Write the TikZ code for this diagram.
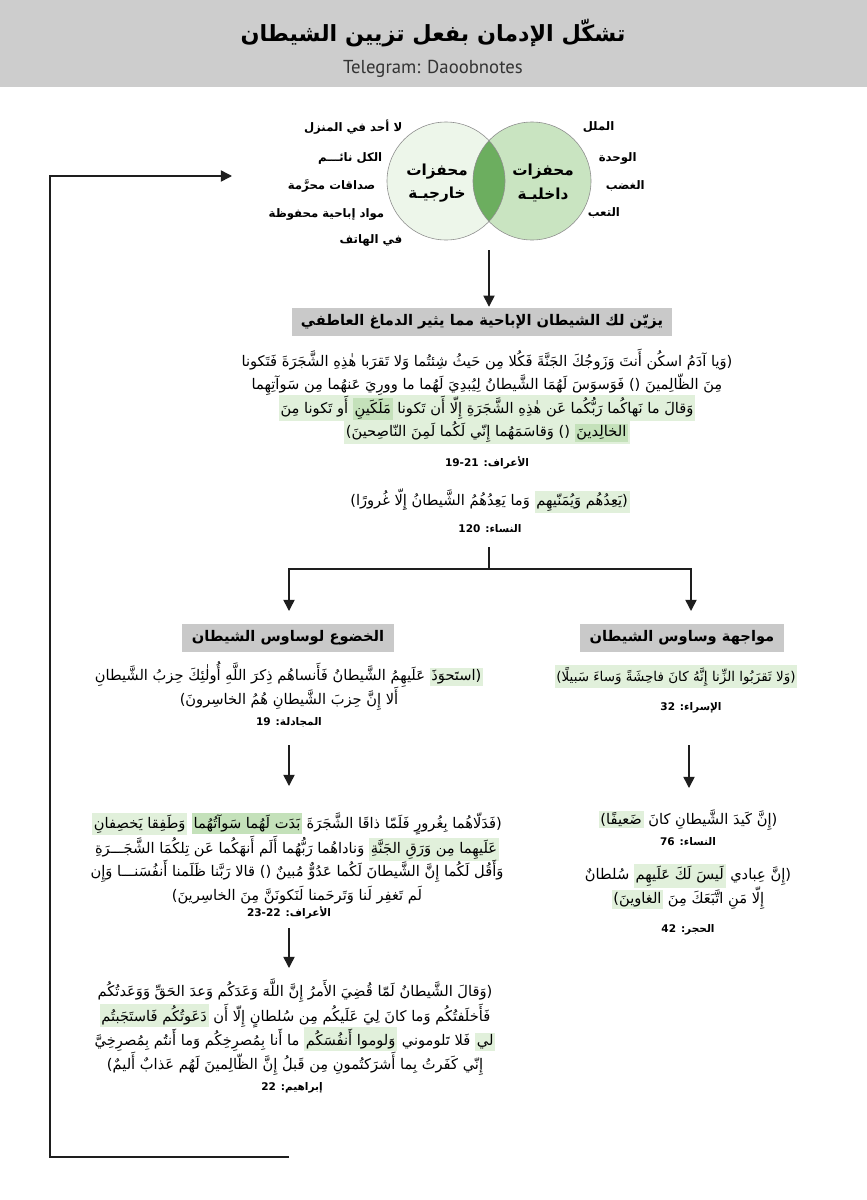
\documentclass[tikz,border=0pt]{standalone}
\usepackage{fontspec}
\setmainfont{PT Sans}
\newfontfamily\arabicfont[Script=Arabic]{DejaVu Sans}
\TeXXeTstate=1
\usetikzlibrary{arrows.meta, positioning}
\definecolor{bandgrey}{HTML}{CDCDCD}
\definecolor{boxgrey}{HTML}{C9C9C9}
\definecolor{palegreen}{HTML}{E1F0DB}
\definecolor{midgreen}{HTML}{C4E1BA}
\definecolor{extgreen}{HTML}{EDF6EA}
\definecolor{intgreen}{HTML}{C9E4C1}
\definecolor{overlapgreen}{HTML}{6CAE5F}
\definecolor{ringgrey}{HTML}{8E8E8E}
\definecolor{inkgrey}{HTML}{1E1E1E}
\newcommand{\rl}[1]{\beginR #1\endR}
\newcommand{\hl}[2][palegreen]{\smash{\setlength{\fboxsep}{1.5pt}\colorbox{#1}{#2}}}
\tikzset{
  every picture/.style={line width=1.3pt},
  heading/.style={fill=boxgrey, inner xsep=8pt, inner ysep=6pt, font=\arabicfont\bfseries\fontsize{12.5}{16}\selectfont},
  verse/.style={align=center, inner sep=0pt, font=\arabicfont\fontsize{12.5}{20}\selectfont},
  source/.style={inner sep=0pt, font=\arabicfont\bfseries\fontsize{9}{12}\selectfont},
  cue/.style={inner sep=0pt, font=\arabicfont\bfseries\fontsize{10}{12}\selectfont},
  venn/.style={circle, minimum size=3.54cm, inner sep=0pt},
  venntext/.style={align=center, font=\arabicfont\bfseries\fontsize{13}{20}\selectfont},
  arrow/.style={-{Triangle[length=9.5pt, width=9.5pt]}, draw=inkgrey},
}
\begin{document}
\begin{tikzpicture}[x=0.03cm, y=-0.03cm]
  \useasboundingbox (0,0) rectangle (867,1200);
  \fill[bandgrey] (0,0) rectangle (867,87);
  \node[font=\arabicfont\bfseries\fontsize{19}{24}\selectfont] (title) at (433,33) {\rl{تشكّل الإدمان بفعل تزيين الشيطان}};
  \node[font=\fontsize{16}{18}\selectfont, text=black!80] (channel) at (433,69) {Telegram: Daoobnotes};

  \node[venn, fill=extgreen] (ext) at (446,181) {};
  \node[venn, fill=intgreen] (int) at (532,181) {};
  \begin{scope}
    \clip (ext.center) circle[radius=1.77cm];
    \fill[overlapgreen] (int.center) circle[radius=1.77cm];
  \end{scope}
  \draw[ringgrey, line width=0.5pt] (ext.center) circle[radius=1.77cm] (int.center) circle[radius=1.77cm];
  \node[venntext] (extlabel) at (437,183) {\rl{محفزات}\\\rl{خارجيـة}};
  \node[venntext] (intlabel) at (543,183) {\rl{محفزات}\\\rl{داخليـة}};

  \node[cue, anchor=east] (ext1) at (403,127) {\rl{لا أحد في المنزل}};
  \node[cue, anchor=east] (ext2) at (383,158) {\rl{الكل نائـــم}};
  \node[cue, anchor=east] (ext3) at (376,186) {\rl{صداقات محرَّمة}};
  \node[cue, anchor=east] (ext4) at (385,214) {\rl{مواد إباحية محفوظة}};
  \node[cue, anchor=east] (ext5) at (403,240) {\rl{في الهاتف}};
  \node[cue, anchor=west] (int1) at (582,127) {\rl{الملل}};
  \node[cue, anchor=west] (int2) at (598,158) {\rl{الوحدة}};
  \node[cue, anchor=west] (int3) at (605,186) {\rl{الغضب}};
  \node[cue, anchor=west] (int4) at (587,213) {\rl{التعب}};

  \coordinate (vennfoot) at (489,250);
  \node[heading] (adorn) at (482,322) {\rl{يزيّن لك الشيطان الإباحية مما يثير الدماغ العاطفي}};
  \draw[arrow] (vennfoot) -- (vennfoot |- adorn.north);

  \node[verse] (araf1) at (487,393) {%
    \rl{(وَيا آدَمُ اسكُن أَنتَ وَزَوجُكَ الجَنَّةَ فَكُلا مِن حَيثُ شِئتُما وَلا تَقرَبا هٰذِهِ الشَّجَرَةَ فَتَكونا}\\
    \rl{مِنَ الظّالِمينَ () فَوَسوَسَ لَهُمَا الشَّيطانُ لِيُبدِيَ لَهُما ما وورِيَ عَنهُما مِن سَوآتِهِما}\\
    \hl{\rl{أَو تَكونا مِنَ} \hl[midgreen]{\rl{مَلَكَينِ}} \rl{وَقالَ ما نَهاكُما رَبُّكُما عَن هٰذِهِ الشَّجَرَةِ إِلّا أَن تَكونا}}\\
    \hl{\rl{() وَقاسَمَهُما إِنّي لَكُما لَمِنَ النّاصِحينَ)} \hl[midgreen]{\rl{الخالِدينَ}}}};
  \node[source] (araf1src) at (487,463) {\rl{الأعراف: 19-21}};
  \node[verse] (nisa1) at (490,500) {\rl{وَما يَعِدُهُمُ الشَّيطانُ إِلّا غُرورًا)} \hl{\rl{(يَعِدُهُم وَيُمَنّيهِم}}};
  \node[source] (nisa1src) at (490,529) {\rl{النساء: 120}};

  \coordinate (forktop) at (489,547);
  \coordinate (fork) at (489,569);
  \coordinate (lefttip) at (289,611);
  \coordinate (righttip) at (691,611);
  \draw[arrow] (forktop) -- (fork) -| (lefttip);
  \draw[arrow] (fork) -| (righttip);

  \node[heading] (yield) at (288,638) {\rl{الخضوع لوساوس الشيطان}};
  \node[heading] (resist) at (682,638) {\rl{مواجهة وساوس الشيطان}};

  \node[verse] (mujadala) at (289,686) {%
    \rl{عَلَيهِمُ الشَّيطانُ فَأَنساهُم ذِكرَ اللَّهِ أُولٰئِكَ حِزبُ الشَّيطانِ} \hl{\rl{(استَحوَذَ}}\\
    \rl{أَلا إِنَّ حِزبَ الشَّيطانِ هُمُ الخاسِرونَ)}};
  \node[source] (mujadalasrc) at (289,722) {\rl{المجادلة: 19}};
  \node[verse, font=\arabicfont\fontsize{11.5}{20}\selectfont] (isra) at (676,681) {\hl{\rl{(وَلا تَقرَبُوا الزِّنا إِنَّهُ كانَ فاحِشَةً وَساءَ سَبيلًا)}}};
  \node[source] (israsrc) at (691,708) {\rl{الإسراء: 32}};

  \coordinate (leftfoot1) at (289,745);
  \coordinate (lefttip1) at (289,786);
  \coordinate (rightfoot) at (689,745);
  \coordinate (righttip1) at (689,788);
  \draw[arrow] (leftfoot1) -- (lefttip1);
  \draw[arrow] (rightfoot) -- (righttip1);

  \node[verse] (araf2) at (297,858) {%
    \hl{\rl{وَطَفِقا يَخصِفانِ}} \hl[midgreen]{\rl{بَدَت لَهُما سَوآتُهُما}} \rl{(فَدَلّاهُما بِغُرورٍ فَلَمّا ذاقَا الشَّجَرَةَ}\\
    \rl{وَناداهُما رَبُّهُما أَلَم أَنهَكُما عَن تِلكُمَا الشَّجَـــرَةِ} \hl{\rl{عَلَيهِما مِن وَرَقِ الجَنَّةِ}}\\
    \rl{وَأَقُل لَكُما إِنَّ الشَّيطانَ لَكُما عَدُوٌّ مُبينٌ () قالا رَبَّنا ظَلَمنا أَنفُسَنـــا وَإِن}\\
    \rl{لَم تَغفِر لَنا وَتَرحَمنا لَنَكونَنَّ مِنَ الخاسِرينَ)}};
  \node[source] (araf2src) at (289,913) {\rl{الأعراف: 23-22}};

  \node[verse] (nisa2) at (688,820) {\hl{\rl{ضَعيفًا)}} \rl{(إِنَّ كَيدَ الشَّيطانِ كانَ}};
  \node[source] (nisa2src) at (688,842) {\rl{النساء: 76}};
  \node[verse] (hijr) at (688,888) {%
    \rl{سُلطانٌ} \hl{\rl{لَيسَ لَكَ عَلَيهِم}} \rl{(إِنَّ عِبادي}\\
    \hl{\rl{الغاوينَ)}} \rl{إِلّا مَنِ اتَّبَعَكَ مِنَ}};
  \node[source] (hijrsrc) at (688,930) {\rl{الحجر: 42}};

  \coordinate (leftfoot2) at (289,928);
  \coordinate (lefttip2) at (289,968);
  \draw[arrow] (leftfoot2) -- (lefttip2);

  \node[verse] (ibrahim) at (295,1027) {%
    \rl{(وَقالَ الشَّيطانُ لَمّا قُضِيَ الأَمرُ إِنَّ اللَّهَ وَعَدَكُم وَعدَ الحَقِّ وَوَعَدتُكُم}\\
    \hl{\rl{دَعَوتُكُم فَاستَجَبتُم}} \rl{فَأَخلَفتُكُم وَما كانَ لِيَ عَلَيكُم مِن سُلطانٍ إِلّا أَن}\\
    \rl{ما أَنا بِمُصرِخِكُم وَما أَنتُم بِمُصرِخِيَّ} \hl{\rl{وَلوموا أَنفُسَكُم}} \rl{فَلا تَلوموني} \hl{\rl{لي}}\\
    \rl{إِنّي كَفَرتُ بِما أَشرَكتُمونِ مِن قَبلُ إِنَّ الظّالِمينَ لَهُم عَذابٌ أَليمٌ)}};
  \node[source] (ibrahimsrc) at (292,1088) {\rl{إبراهيم: 22}};

  \coordinate (loopstart) at (289,1157);
  \coordinate (loopcorner) at (50,1157);
  \coordinate (looptop) at (50,176);
  \coordinate (looptip) at (232,176);
  \draw[arrow] (loopstart) -- (loopcorner) -- (looptop) -- (looptip);
\end{tikzpicture}
\end{document}
